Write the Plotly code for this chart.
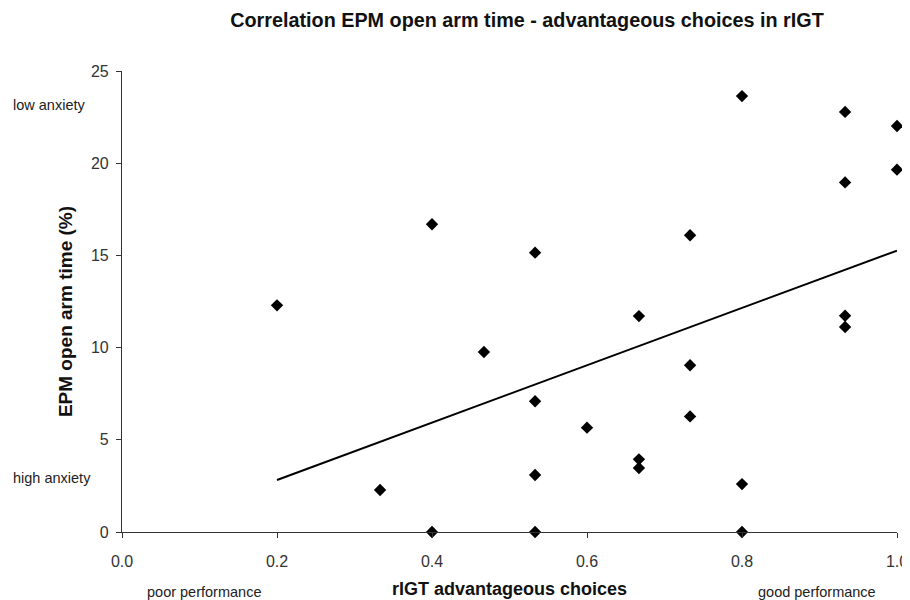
import numpy as np
import plotly.graph_objects as go

# rIGT advantageous choices (x) and EPM open arm time % (y)
rigt_choices = [0.2, 0.333, 0.4, 0.4, 0.467, 0.533, 0.533, 0.533, 0.533, 0.6,
                0.667, 0.667, 0.667, 0.733, 0.733, 0.733, 0.8, 0.8, 0.8,
                0.933, 0.933, 0.933, 0.933, 1.0, 1.0]
epm_open_arm = [12.29, 2.28, 16.69, 0.0, 9.76, 15.15, 7.09, 3.09, 0.0, 5.66,
                11.71, 3.94, 3.47, 16.09, 9.04, 6.27, 23.64, 2.60, 0.0,
                22.78, 18.96, 11.73, 11.12, 22.02, 19.65]

x_ticks = [0.0, 0.2, 0.4, 0.6, 0.8, 1.0]
x_tick_labels = ["0.0", "0.2", "0.4", "0.6", "0.8", "1.0"]
y_ticks = [0, 5, 10, 15, 20, 25]

# linear trendline across the data range
slope, intercept = np.polyfit(rigt_choices, epm_open_arm, 1)
trend_x = [min(rigt_choices), max(rigt_choices)]
trend_y = [slope * v + intercept for v in trend_x]

FONT = "Liberation Sans, Arial, sans-serif"
OFF = 8  # default page body margin
W, H = 910 - OFF, 600 - OFF
L, T = 113.7, 62.7
R = W - 888.7
B = H - 523.7
pw, ph = W - L - R, H - T - B

def px(xpage):
    return (xpage - OFF - L) / pw

def py(ypage):
    return (H - B - (ypage - OFF)) / ph

fig = go.Figure()
fig.add_trace(go.Scatter(
    x=trend_x, y=trend_y, mode="lines",
    line=dict(color="black", width=2), showlegend=False, hoverinfo="skip"))
fig.add_trace(go.Scatter(
    x=rigt_choices, y=epm_open_arm, mode="markers",
    marker=dict(symbol="diamond", size=9.5, color="black"),
    cliponaxis=False, showlegend=False))

note_font = dict(size=14.5, color="#222222")

fig.update_layout(
    width=W, height=H,
    margin=dict(l=L, r=R, t=T, b=B, autoexpand=False),
    paper_bgcolor="white", plot_bgcolor="white",
    font=dict(family=FONT, color="#222222"),
    title=dict(text="<b>Correlation EPM open arm time - advantageous choices in rIGT</b>",
               x=(527 - OFF) / W, xanchor="center", xref="container",
               y=1 - (20 - OFF) / H, yanchor="middle", yref="container",
               font=dict(size=19.8, color="#111111")),
    xaxis=dict(range=[0, 1.0], tickvals=x_ticks, ticktext=x_tick_labels,
               automargin=False,
               showgrid=False, zeroline=False, showline=True, linecolor="#333333",
               linewidth=1.2, ticks="outside", ticklen=5, tickcolor="#333333",
               ticklabelstandoff=10,
               tickfont=dict(size=16, color="#333333"),
               title=dict(text="<b>rIGT advantageous choices</b>", standoff=13,
                          font=dict(size=18, color="#111111"))),
    yaxis=dict(range=[0, 25], tickvals=y_ticks, automargin=False,
               showgrid=False, zeroline=False, showline=True, linecolor="#333333",
               linewidth=1.2, ticks="outside", ticklen=5, tickcolor="#333333",
               ticklabelstandoff=4,
               tickfont=dict(size=16, color="#333333")),
    annotations=[
        dict(text="<b>EPM open arm time (%)</b>", x=px(65), y=py(311.5),
             xref="paper", yref="paper", textangle=-90,
             xanchor="center", yanchor="middle", showarrow=False,
             font=dict(size=19, color="#111111")),
        dict(text="low anxiety", x=px(11), y=py(105), xref="paper", yref="paper",
             xanchor="left", yanchor="middle", showarrow=False, font=note_font),
        dict(text="high anxiety", x=px(11), y=py(477.5), xref="paper", yref="paper",
             xanchor="left", yanchor="middle", showarrow=False, font=note_font),
        dict(text="poor performance", x=px(204), y=py(592), xref="paper", yref="paper",
             xanchor="center", yanchor="middle", showarrow=False, font=note_font),
        dict(text="good performance", x=px(816.5), y=py(592), xref="paper", yref="paper",
             xanchor="center", yanchor="middle", showarrow=False, font=note_font),
    ],
)

fig.write_html("out.html")
